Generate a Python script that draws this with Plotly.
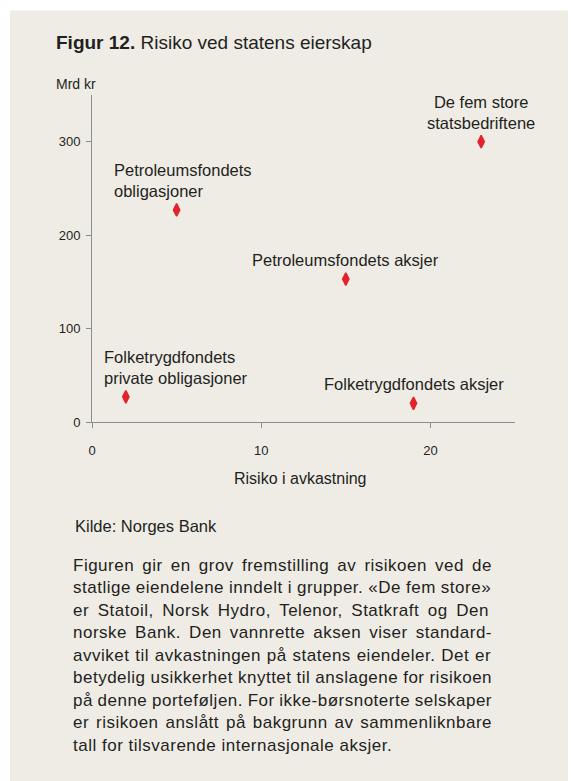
import plotly.graph_objects as go

# Figur 12. Risiko ved statens eierskap (kilde: Norges Bank)
labels = ["Folketrygdfondets<br>private obligasjoner", "Petroleumsfondets<br>obligasjoner",
          "Petroleumsfondets aksjer", "Folketrygdfondets aksjer", "De fem store<br>statsbedriftene"]
risiko = [2, 5, 15, 19, 23]
mrd_kr = [27, 227, 153, 20, 300]
x_ticks = [0, 10, 20]
y_ticks = [0, 100, 200, 300]

tekst = [
    "Figuren gir en grov fremstilling av risikoen ved de",
    "statlige eiendelene inndelt i grupper. «De fem store»",
    "er Statoil, Norsk Hydro, Telenor, Statkraft og Den",
    "norske Bank. Den vannrette aksen viser standard-",
    "avviket til avkastningen på statens eiendeler. Det er",
    "betydelig usikkerhet knyttet til anslagene for risikoen",
    "på denne porteføljen. For ikke-børsnoterte selskaper",
    "er risikoen anslått på bakgrunn av sammenliknbare",
    "tall for tilsvarende internasjonale aksjer.",
]

# page body has an 8px margin, so the figure is 8px smaller than the window
W, H = 568, 773
OFF = 8
X0, Y0 = 92, 421.7          # screen position of the axis origin
L, R, B = X0 - OFF, 61, 781 - Y0
T = 94.5 - OFF
PW, PH = W - L - R, H - T - B
BG = "#efece6"
INK = "#231f20"
FONT = "Liberation Sans, Arial, sans-serif"


def px(x):
    return (x - X0) / PW


def py(y):
    return (Y0 - y) / PH


# Arial advance widths (1/1000 em), used to justify the paragraph
ARIAL = {c: 556 for c in "abdeghnopqu«»å"}
ARIAL.update({c: 500 for c in "cksvxyz"})
ARIAL.update({c: 222 for c in "ijl"})
ARIAL.update({c: 278 for c in "ft .,:"})
ARIAL.update({"r": 333, "-": 333, "m": 833, "w": 722, "ø": 611, "æ": 889,
              "B": 667, "D": 722, "F": 611, "H": 722, "N": 722, "S": 667, "T": 611})


def justify(line, size=17, spacing=0.5, width=419):
    natural = sum(ARIAL.get(c, 556) for c in line) * size / 1000 + spacing * len(line)
    return (width - natural) / line.count(" ")


fig = go.Figure(go.Scatter(x=risiko, y=mrd_kr, mode="markers", cliponaxis=False, hoverinfo="skip",
                           marker=dict(symbol="diamond-tall", size=9, color="#e3232b",
                                       line=dict(color="#e3232b", width=1.5))))

# label anchor per point: (xanchor, align, xshift)
plassering = [("left", "left", -24), ("left", "left", -65), ("center", "center", 0),
              ("center", "center", 1), ("center", "center", 0)]
ann = []
for lab, x, y, (xa, al, xs) in zip(labels, risiko, mrd_kr, plassering):
    ann.append(dict(x=x, y=y, xref="x", yref="y", text=lab, showarrow=False, xanchor=xa, align=al,
                    xshift=xs, yanchor="bottom", yshift=8, font=dict(family=FONT, size=16.5, color=INK)))

ann.append(dict(x=px(54), y=py(42), text="<b>Figur 12.</b> Risiko ved statens eierskap",
                font=dict(family=FONT, size=19, color=INK)))
ann.append(dict(x=px(54), y=py(83), text="Mrd kr", font=dict(family=FONT, size=14, color=INK)))
ann.append(dict(x=px(300), y=py(478), text="Risiko i avkastning", xanchor="center",
                font=dict(family=FONT, size=16, color=INK)))
ann.append(dict(x=px(73), y=py(526), text="Kilde: Norges Bank", font=dict(family=FONT, size=16.5, color=INK)))

for i, line in enumerate(tekst):
    ws = justify(line) if i < len(tekst) - 1 else 0
    ann.append(dict(x=px(71), y=py(565 + 22.5 * i),
                    text=f'<span style="letter-spacing:0.5px;word-spacing:{ws:.2f}px">{line}</span>',
                    font=dict(family=FONT, size=17, color=INK)))

for a in ann:
    a.setdefault("xref", "paper")
    a.setdefault("yref", "paper")
    a.setdefault("xanchor", "left")
    a.setdefault("yanchor", "middle")
    a.setdefault("showarrow", False)

axis = dict(showline=True, linecolor="#8c8c8c", linewidth=1, ticks="outside", ticklen=5,
            tickcolor="#8c8c8c", showgrid=False, zeroline=False,
            tickfont=dict(family=FONT, size=13, color=INK))

fig.update_layout(
    width=W, height=H, margin=dict(l=L, r=R, t=T, b=B),
    paper_bgcolor="white", plot_bgcolor=BG, showlegend=False, hovermode=False,
    xaxis=dict(axis, range=[0, 25], tickvals=x_ticks, ticklabelstandoff=11),
    yaxis=dict(axis, range=[0, 350], tickvals=y_ticks, ticklabelstandoff=3),
    annotations=ann,
    shapes=[dict(type="rect", xref="paper", yref="paper", x0=px(10), x1=px(W + 20), y0=py(H + 20), y1=py(10),
                 fillcolor=BG, line=dict(width=0), layer="below")],
)

fig.write_html("out.html")
